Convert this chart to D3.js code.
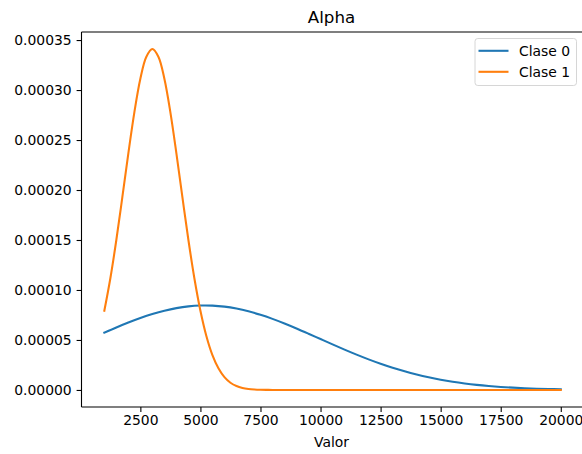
<!DOCTYPE html>
<html>
<head>
<meta charset="utf-8">
<script src="https://cdn.jsdelivr.net/npm/d3@7"></script>
<style>
  html, body { margin: 0; padding: 0; background: #fff; }
  svg { display: block; }
  text { font-family: "DejaVu Sans", sans-serif; fill: #000; }
</style>
</head>
<body>
<script>
// Density of "Alpha" for each class
const class0X = [1000,1500,2000,2500,3000,3500,4000,4500,5000,5500,6000,6500,7000,7500,8000,8500,9000,9500,10000,10500,11000,11500,12000,12500,13000,13500,14000,14500,15000,15500,16000,16500,17000,17500,18000,18500,19000,19500,20000];
const class0Y = [5.734e-5,6.255e-5,6.747e-5,7.199e-5,7.597e-5,7.930e-5,8.186e-5,8.360e-5,8.442e-5,8.433e-5,8.332e-5,8.141e-5,7.869e-5,7.522e-5,7.112e-5,6.652e-5,6.153e-5,5.629e-5,5.093e-5,4.558e-5,4.034e-5,3.532e-5,3.058e-5,2.620e-5,2.219e-5,1.859e-5,1.540e-5,1.262e-5,1.023e-5,8.20e-6,6.51e-6,5.10e-6,3.96e-6,3.04e-6,2.31e-6,1.73e-6,1.29e-6,0.94e-6,0.69e-6];

const class1X = [1000,1250,1500,1750,2000,2250,2500,2750,3000,3250,3500,3750,4000,4250,4500,4750,5000,5250,5500,5750,6000,6250,6500,6750,7000,7250,7500,7750,8000,9000,10000,11000,12000,13000,14000,15000,16000,17000,18000,19000,20000];
const class1Y = [7.92e-5,1.115e-4,1.500e-4,1.928e-4,2.367e-4,2.777e-4,3.113e-4,3.333e-4,3.41e-4,3.333e-4,3.113e-4,2.777e-4,2.367e-4,1.928e-4,1.500e-4,1.115e-4,7.92e-5,5.37e-5,3.48e-5,2.16e-5,1.277e-5,7.22e-6,3.90e-6,2.01e-6,9.9e-7,4.7e-7,2.1e-7,9e-8,4e-8,0,0,0,0,0,0,0,0,0,0,0,0];

const seriesNames = ["Clase 0", "Clase 1"];
const seriesColors = ["#1f77b4", "#ff7f0e"];
const xTicks = [2500, 5000, 7500, 10000, 12500, 15000, 17500, 20000];
const yTicks = [0, 0.00005, 0.0001, 0.00015, 0.0002, 0.00025, 0.0003, 0.00035];
const titleText = "Alpha";
const xLabel = "Valor";

const W = 582, H = 454;
const plot = { left: 81.5, right: 583.6, top: 32, bottom: 407 };

const series = [
  { name: seriesNames[0], color: seriesColors[0], pts: class0X.map((x, i) => [x, class0Y[i]]) },
  { name: seriesNames[1], color: seriesColors[1], pts: class1X.map((x, i) => [x, class1Y[i]]) }
];

// matplotlib-style 5% margins around the data
const allX = class0X.concat(class1X), allY = class0Y.concat(class1Y);
const [x0, x1] = d3.extent(allX), [y0, y1] = d3.extent(allY);
const xm = (x1 - x0) * 0.05, ym = (y1 - y0) * 0.05;

const x = d3.scaleLinear().domain([x0 - xm, x1 + xm]).range([plot.left, plot.right]);
const y = d3.scaleLinear().domain([y0 - ym, y1 + ym]).range([plot.bottom, plot.top]);

const svg = d3.select("body").append("svg").attr("width", W).attr("height", H);

svg.append("defs").append("clipPath").attr("id", "plotclip")
  .append("rect").attr("x", plot.left).attr("y", plot.top)
  .attr("width", plot.right - plot.left).attr("height", plot.bottom - plot.top);

// curves
const line = d3.line().x(d => x(d[0])).y(d => y(d[1])).curve(d3.curveCatmullRom.alpha(0.5));
svg.append("g").attr("clip-path", "url(#plotclip)")
  .selectAll("path").data(series).join("path")
  .attr("d", d => line(d.pts))
  .attr("fill", "none")
  .attr("stroke", d => d.color)
  .attr("stroke-width", 2.08)
  .attr("stroke-linecap", "square")
  .attr("stroke-linejoin", "round");

// axes
const fmtY = d3.format(".5f");
const xAxis = d3.axisBottom(x).tickValues(xTicks).tickFormat(d3.format("d")).tickSizeInner(4.9).tickSizeOuter(0).tickPadding(3.5);
const yAxis = d3.axisLeft(y).tickValues(yTicks).tickFormat(fmtY).tickSizeInner(4.9).tickSizeOuter(0).tickPadding(4.9);

const gx = svg.append("g").attr("transform", `translate(0,${plot.bottom})`).call(xAxis);
const gy = svg.append("g").attr("transform", `translate(${plot.left},0)`).call(yAxis);
[gx, gy].forEach(g => {
  g.select(".domain").remove();
  g.selectAll(".tick line").attr("stroke", "#000").attr("stroke-width", 1.1);
  g.selectAll(".tick text").attr("font-size", 13.9).attr("font-family", "DejaVu Sans").attr("fill", "#000");
});
gx.selectAll(".tick text").attr("dy", "0.71em");

// spines
const spines = svg.append("g").attr("stroke", "#000").attr("stroke-width", 1.1).attr("fill", "none");
spines.append("line").attr("x1", plot.left).attr("x2", plot.left).attr("y1", plot.top).attr("y2", plot.bottom);
spines.append("line").attr("x1", plot.left).attr("x2", plot.right).attr("y1", plot.bottom).attr("y2", plot.bottom);
spines.append("line").attr("x1", plot.left).attr("x2", plot.right).attr("y1", plot.top).attr("y2", plot.top);
spines.append("line").attr("x1", plot.right).attr("x2", plot.right).attr("y1", plot.top).attr("y2", plot.bottom);

// title and axis label
svg.append("text").attr("x", (plot.left + plot.right) / 2 - 1).attr("y", 23)
  .attr("text-anchor", "middle").attr("font-size", 16.7).text(titleText);
svg.append("text").attr("x", (plot.left + plot.right) / 2 - 1).attr("y", 447)
  .attr("text-anchor", "middle").attr("font-size", 13.9).text(xLabel);

// legend
const lg = svg.append("g").attr("transform", "translate(475,38.5)");
lg.append("rect").attr("x", 0).attr("y", 0).attr("width", 101.5).attr("height", 47)
  .attr("rx", 2.8).attr("fill", "#fff").attr("fill-opacity", 0.8)
  .attr("stroke", "#d6d6d6").attr("stroke-width", 1);
const items = lg.selectAll("g.item").data(series).join("g").attr("class", "item")
  .attr("transform", (d, i) => `translate(0,${12.3 + i * 21})`);
items.append("line").attr("x1", 3.5).attr("x2", 33.5).attr("y1", 0).attr("y2", 0)
  .attr("stroke", d => d.color).attr("stroke-width", 2.08);
items.append("text").attr("x", 44).attr("y", 0).attr("dy", "0.35em")
  .attr("font-size", 13.9).text(d => d.name);
</script>
</body>
</html>
